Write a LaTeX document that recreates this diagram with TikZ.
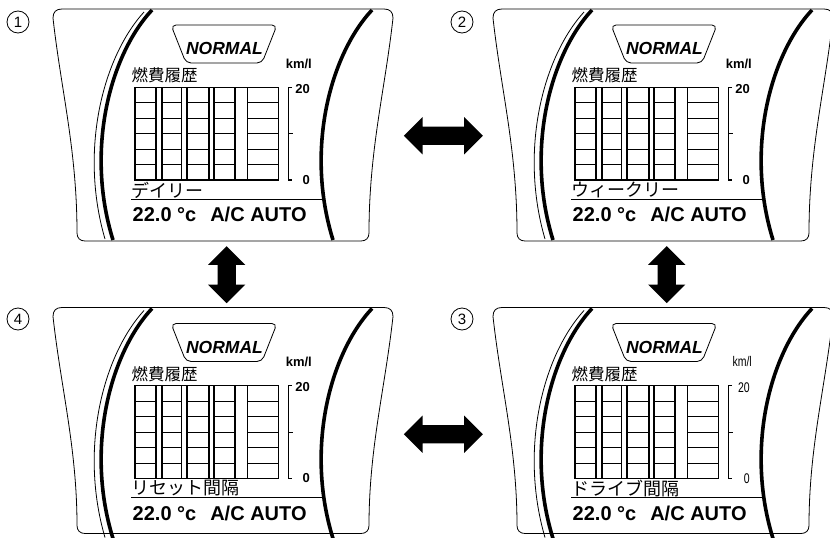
\documentclass[tikz,border=0pt]{standalone}
\usepackage{fontspec}
\setmainfont{Liberation Sans}
\newfontfamily\jpfont{Noto Sans CJK JP}
\newfontfamily\narrowfont[FakeStretch=0.75]{Liberation Sans}
\usetikzlibrary{shapes.arrows}

\tikzset{
  panelline/.style={line width=0.8pt},
  gaugearc/.style={line width=3.6pt},
  gridline/.style={line width=1.1pt},
  stepnum/.style={circle,draw,line width=0.8pt,minimum size=22pt,inner sep=0pt,
        font=\fontsize{15}{15}\selectfont},
  swaparrow/.style={double arrow,fill=black,inner xsep=0pt,inner ysep=9pt,
        double arrow head extend=9.5pt,double arrow tip angle=90,minimum width=37pt},
  % one display, #1 label under the chart, #2 scale font, #3 bottom edge
  pics/meterpanel/.style n args={3}{code={
    \draw[panelline] (62,9) -- (384,9) .. controls (390,9) and (393,12) .. (393,18)
        .. controls (385,90) and (369,150) .. (369,#3-8)
        .. controls (369,#3-3) and (366,#3) .. (361,#3) -- (85,#3)
        .. controls (80,#3) and (77,#3-3) .. (77,#3-8)
        .. controls (77,150) and (61,90) .. (53,18)
        .. controls (53,12) and (56,9) .. (62,9) -- cycle;
    \draw[panelline] (144,12) .. controls (103,57) and (79,150) .. (105,239);
    \draw[gaugearc] (152,10) .. controls (110,55) and (85,150) .. (113,240);
    \draw[gaugearc] (372,10) .. controls (330,55) and (305,150) .. (333,240);
    % mode badge
    \draw[panelline,rounded corners=5pt] (171,25) -- (277,25) -- (262,63) -- (186,63) -- cycle;
    \node[font=\fontsize{17.5}{18}\selectfont\bfseries\itshape,inner sep=0pt] (-mode) at (224.5,48.7) {NORMAL};
    \node[font=#2,anchor=base east,inner sep=0pt] (-unit) at (312,68) {km/l};
    \node[font=\jpfont\fontsize{16.5}{17}\selectfont,anchor=west,inner sep=0pt] (-title) at (131.5,75.5) {燃費履歴};
    % bar chart
    \draw[gridline] (135,87.3) rectangle (278.3,180);
    \foreach \xa/\xb in {135/156,162/181.5,187/209,214/235,247.5/278.3}{
      \draw[gridline] (\xa,87.3) rectangle (\xb,180);
      \foreach \r in {1,...,5}
        \draw[gridline] (\xa,87.3+15.45*\r) -- (\xb,87.3+15.45*\r);
    }
    \draw[gridline] (292,87.3) -- (288.3,87.3) -- (288.3,180) -- (292,180);
    \draw[gridline] (288.3,133.6) -- (293,133.6);
    \node[font=#2,anchor=east,inner sep=0pt] (-max) at (310,89) {20};
    \node[font=#2,anchor=east,inner sep=0pt] (-min) at (310,180) {0};
    \node[font=\jpfont\fontsize{18}{18}\selectfont,anchor=west,inner sep=0pt] (-span) at (131,190) {#1};
    \draw[line width=1pt] (131,199) -- (323,199);
    \node[font=\fontsize{20}{20}\selectfont\bfseries,anchor=base west,inner sep=0pt] (-status)
         at (132.5,221.7) {22.0 °c\hspace{14pt}A/C AUTO};
  }},
}

\begin{document}
\begin{tikzpicture}[x=1pt,y=-1pt]
  \useasboundingbox (0,0) rectangle (830,538);
  \pic (p1) at (0,0) {meterpanel={デイリー}{\fontsize{13}{13}\selectfont\bfseries}{241}};
  \pic (p2) at (440,0) {meterpanel={ウィークリー}{\fontsize{13}{13}\selectfont\bfseries}{241}};
  \pic (p3) at (440,298.5) {meterpanel={ドライブ間隔}{\narrowfont\fontsize{14}{14}\selectfont}{235}};
  \pic (p4) at (0,298.5) {meterpanel={リセット間隔}{\fontsize{13}{13}\selectfont\bfseries}{235}};

  \node[stepnum] (num1) at (18,22) {1};
  \node[stepnum] (num2) at (462,22) {2};
  \node[stepnum] (num3) at (462,319) {3};
  \node[stepnum] (num4) at (18,319) {4};

  \node[swaparrow,minimum height=79pt] (arrTop) at (443.3,135.7) {};
  \node[swaparrow,minimum height=79pt] (arrBottom) at (443.3,434.2) {};
  \node[swaparrow,minimum height=57pt,rotate=90] (arrLeft) at (226.7,274.7) {};
  \node[swaparrow,minimum height=57pt,rotate=90] (arrRight) at (666.7,274.7) {};
\end{tikzpicture}
\end{document}
